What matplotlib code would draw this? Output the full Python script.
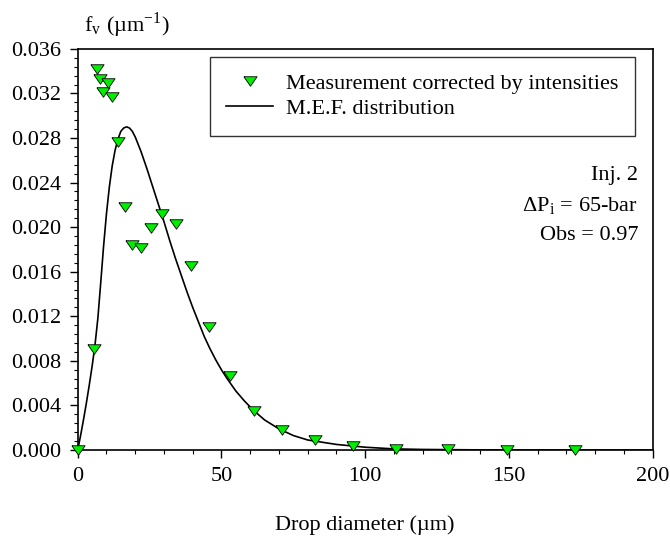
import matplotlib.pyplot as plt
from matplotlib.ticker import MultipleLocator, FormatStrFormatter

# measured points (drop diameter in um, volume fraction f_v in 1/um)
meas_d = [0.0, 5.8, 6.7, 7.7, 8.9, 10.5, 12.1, 13.9, 16.4, 18.9, 21.9,
          25.5, 29.4, 34.1, 39.5, 45.8, 52.9, 61.5, 71.2, 82.5, 95.8,
          110.8, 128.7, 149.3, 172.9]
meas_f = [0.0, 0.0091, 0.0342, 0.0333, 0.0321, 0.0329, 0.0317, 0.0276,
          0.0218, 0.0184, 0.0181, 0.0199, 0.0212, 0.0203, 0.0165, 0.0110,
          0.0066, 0.0035, 0.0018, 0.0009, 0.0004, 0.0001, 0.00005, 0.0,
          0.0]

# M.E.F. distribution curve
mef_d = [0, 1, 2, 3, 4, 5, 6, 7, 8, 9, 10, 11, 12, 13, 14, 15, 16, 17,
         18, 19, 20, 22, 24, 26, 28, 30, 32, 34, 36, 38, 40, 42, 44, 46,
         48, 50, 52, 55, 58, 61, 65, 70, 75, 80, 90, 100, 110, 120, 140,
         170, 200]
mef_f = [0.0, 0.0013, 0.0027, 0.0042, 0.0058, 0.0075, 0.0094, 0.0118,
         0.0150, 0.0183, 0.0212, 0.0236, 0.0255, 0.0269, 0.0279, 0.0286,
         0.0289, 0.0290, 0.0289, 0.0286, 0.0281, 0.0268, 0.0253, 0.0237,
         0.0221, 0.0205, 0.0188, 0.0172, 0.0157, 0.0142, 0.0128, 0.0115,
         0.0102, 0.0091, 0.0081, 0.0072, 0.0064, 0.0053, 0.0044, 0.0036,
         0.0027, 0.0019, 0.0013, 0.0009, 0.0005, 0.00025, 0.0001, 0.00005,
         0.00001, 0.0, 0.0]

plt.rcParams['font.family'] = ['Liberation Serif', 'DejaVu Serif']
plt.rcParams['mathtext.fontset'] = 'stix'
plt.rcParams['font.size'] = 16

# flattened down-pointing triangle, like the original marker
tri = [(-1, 0.72), (1, 0.72), (0, -0.72), (-1, 0.72)]

fig = plt.figure(figsize=(6.7, 5.37), dpi=100)
ax = fig.add_axes([0.116, 0.162, 0.858, 0.747])

ax.plot(meas_d, meas_f, linestyle='none', marker=tri, markersize=9.5,
        markerfacecolor='#00ee00', markeredgecolor='black',
        markeredgewidth=0.6, label='Measurement corrected by intensities',
        zorder=3, clip_on=False)
ax.plot(mef_d, mef_f, color='black', linewidth=1.2,
        label='M.E.F. distribution', zorder=2)

ax.set_xlim(0, 200)
ax.set_ylim(0, 0.036)
ax.xaxis.set_major_locator(MultipleLocator(50))
ax.xaxis.set_minor_locator(MultipleLocator(10))
ax.yaxis.set_major_locator(MultipleLocator(0.004))
ax.yaxis.set_minor_locator(MultipleLocator(0.0008))
ax.yaxis.set_major_formatter(FormatStrFormatter('%.3f'))
ax.tick_params(which='major', direction='out', length=6, width=1.0,
               labelsize=16, pad=6)
ax.tick_params(which='minor', direction='out', length=3, width=0.8)
for s in ax.spines.values():
    s.set_linewidth(1.2)

ax.set_xlabel('Drop diameter (µm)', fontsize=16, labelpad=21)
fig.text(0.125, 0.953, r'f$_\mathregular{v}$ (µm$^{\mathregular{-1}}$)',
         fontsize=16, ha='left', va='center')

leg = ax.legend(loc='upper right', bbox_to_anchor=(0.97, 0.98),
                borderaxespad=0, frameon=True, fancybox=False,
                edgecolor='black', fontsize=16, handlelength=2.1,
                handletextpad=0.6, borderpad=0.75, labelspacing=0.2)
leg.get_frame().set_linewidth(1.0)

ax.text(0.975, 0.685, 'Inj. 2', transform=ax.transAxes, ha='right',
        va='center', fontsize=16)
ax.text(0.975, 0.61, r'ΔP$_\mathregular{i}$ = 65-bar',
        transform=ax.transAxes, ha='right', va='center', fontsize=16)
ax.text(0.975, 0.535, 'Obs = 0.97', transform=ax.transAxes, ha='right',
        va='center', fontsize=16)

fig.savefig('out.png', dpi=100)
